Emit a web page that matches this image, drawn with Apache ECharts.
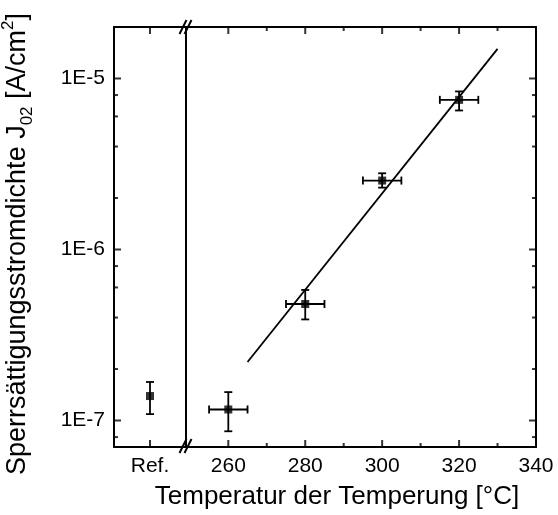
<!DOCTYPE html>
<html>
<head>
<meta charset="utf-8">
<script src="https://cdn.jsdelivr.net/npm/echarts@6/dist/echarts.min.js"></script>
<style>
  html, body { margin: 0; padding: 0; background: #fff; }
  #chart { width: 558px; height: 515px; }
</style>
</head>
<body>
<div id="chart"></div>
<script>
// Referenzprobe (linker Teil der gebrochenen Achse)
const refCategory = ['Ref.'];
const refValue = [1.39e-7];
const refErrLow = [1.09e-7];
const refErrHigh = [1.68e-7];

// Messpunkte nach Temperung
const temperatures = [260, 280, 300, 320];
const currentDensity = [1.16e-7, 4.8e-7, 2.53e-6, 7.5e-6];
const yErrLow = [0.865e-7, 3.9e-7, 2.3e-6, 6.5e-6];
const yErrHigh = [1.466e-7, 5.8e-7, 2.79e-6, 8.4e-6];
const tempErr = [5, 5, 5, 5];

// Ausgleichsgerade
const fitX = [265, 330];
const fitY = [2.2e-7, 1.49e-5];

// Achsenteilung
const xMajorTicks = [260, 280, 300, 320, 340];
const xMinorTicks = [270, 290, 310, 330];
const yMajorTicks = [1e-7, 1e-6, 1e-5];
const yMinorTicks = [8e-8, 2e-7, 4e-7, 6e-7, 8e-7, 2e-6, 4e-6, 6e-6, 8e-6];

const FONT = 'Liberation Sans, Arial, sans-serif';
const Y_MIN = 7e-8, Y_MAX = 2e-5;
const X_MIN = 249, X_MAX = 340;

const myChart = echarts.init(document.getElementById('chart'));

const lineOn = () => ({ show: true, lineStyle: { color: '#000', width: 2 } });
const tickOff = () => ({ show: false });
const labelOff = () => ({ show: false });

function errorBarItem(params, api) {
  const x = api.value(0), y = api.value(1);
  const c = api.coord([x, y]);
  const lo = api.coord([x, api.value(4)]);
  const hi = api.coord([x, api.value(5)]);
  const style = { stroke: '#000', lineWidth: 1.8, fill: null };
  const cap = 4;
  const children = [
    { type: 'line', shape: { x1: c[0], y1: lo[1], x2: c[0], y2: hi[1] }, style },
    { type: 'line', shape: { x1: c[0] - cap, y1: lo[1], x2: c[0] + cap, y2: lo[1] }, style },
    { type: 'line', shape: { x1: c[0] - cap, y1: hi[1], x2: c[0] + cap, y2: hi[1] }, style }
  ];
  if (api.value(3) > api.value(2)) {
    const l = api.coord([api.value(2), y]);
    const r = api.coord([api.value(3), y]);
    children.push(
      { type: 'line', shape: { x1: l[0], y1: c[1], x2: r[0], y2: c[1] }, style },
      { type: 'line', shape: { x1: l[0], y1: c[1] - cap, x2: l[0], y2: c[1] + cap }, style },
      { type: 'line', shape: { x1: r[0], y1: c[1] - cap, x2: r[0], y2: c[1] + cap }, style }
    );
  }
  return { type: 'group', children };
}

// Teilstriche als schmale Rechteck-Symbole am Rahmen, nach innen verschoben
function tickMarks(xi, yi, data, size, offset) {
  return {
    type: 'scatter', xAxisIndex: xi, yAxisIndex: yi,
    symbol: 'rect', symbolSize: size, symbolOffset: offset,
    itemStyle: { color: '#000' },
    silent: true, clip: false, z: 6,
    data: data
  };
}

// Bruchzeichen an der x-Achse
function breakMarks(cy) {
  return [183, 188].map(cx => ({
    type: 'line',
    shape: { x1: cx - 3.5, y1: cy + 7, x2: cx + 3.5, y2: cy - 7 },
    style: { stroke: '#000', lineWidth: 2 },
    z: 100
  }));
}

const option = {
  animation: false,
  backgroundColor: '#fff',
  textStyle: { fontFamily: FONT, color: '#000' },
  grid: [
    { left: 114, top: 27, width: 72, height: 420, outerBoundsMode: 'none' },
    { left: 186, top: 27, width: 350, height: 420, outerBoundsMode: 'none' }
  ],
  xAxis: [
    {
      gridIndex: 0, type: 'category', data: refCategory, position: 'bottom',
      axisLine: lineOn(), axisTick: tickOff(),
      axisLabel: { fontSize: 21, color: '#000', fontFamily: FONT, margin: 9 },
      splitLine: { show: false }
    },
    {
      gridIndex: 0, type: 'category', data: refCategory, position: 'top',
      axisLine: lineOn(), axisTick: tickOff(), axisLabel: labelOff(), splitLine: { show: false }
    },
    {
      gridIndex: 1, type: 'value', min: X_MIN, max: X_MAX, position: 'bottom',
      axisLine: lineOn(), axisTick: tickOff(),
      axisLabel: { customValues: xMajorTicks, fontSize: 21, color: '#000', fontFamily: FONT, margin: 9 },
      splitLine: { show: false },
      name: 'Temperatur der Temperung [°C]', nameLocation: 'middle', nameGap: 37,
      nameTextStyle: { fontSize: 26, color: '#000', fontFamily: FONT, padding: [0, 48, 0, 0] }
    },
    {
      gridIndex: 1, type: 'value', min: X_MIN, max: X_MAX, position: 'top',
      axisLine: lineOn(), axisTick: tickOff(), axisLabel: labelOff(), splitLine: { show: false }
    },
    // 4: unsichtbare Hilfsachse im Ref.-Bereich (linker Rand = 0)
    {
      gridIndex: 0, type: 'value', min: 0, max: 1, show: false
    }
  ],
  yAxis: [
    {
      gridIndex: 0, type: 'log', min: Y_MIN, max: Y_MAX, position: 'left',
      axisLine: lineOn(), axisTick: tickOff(),
      axisLabel: {
        customValues: yMajorTicks, fontSize: 21, color: '#000', fontFamily: FONT, margin: 9,
        formatter: v => '1E' + Math.round(Math.log10(v))
      },
      splitLine: { show: false },
      name: 'Sperrsättigungsstromdichte J{sub|02} [A/cm{sup|2}]',
      nameLocation: 'middle', nameRotate: 90, nameGap: 78,
      nameTextStyle: {
        fontSize: 27, color: '#000', fontFamily: FONT, lineHeight: 36, padding: [0, 14, 0, 0],
        rich: {
          sub: { fontSize: 17, fontFamily: FONT, color: '#000', verticalAlign: 'bottom', lineHeight: 12 },
          sup: { fontSize: 17, fontFamily: FONT, color: '#000', verticalAlign: 'top', lineHeight: 12 }
        }
      }
    },
    // Trennlinie am Achsenbruch
    {
      gridIndex: 1, type: 'log', min: Y_MIN, max: Y_MAX, position: 'left',
      axisLine: lineOn(), axisTick: tickOff(), axisLabel: labelOff(), splitLine: { show: false }
    },
    {
      gridIndex: 1, type: 'log', min: Y_MIN, max: Y_MAX, position: 'right',
      axisLine: lineOn(), axisTick: tickOff(), axisLabel: labelOff(), splitLine: { show: false }
    }
  ],
  graphic: breakMarks(27).concat(breakMarks(446)),
  series: [
    // Teilstriche
    tickMarks(0, 0, refCategory.map(c => [c, Y_MIN]), [2, 7], [0, -3.5]),
    tickMarks(0, 0, refCategory.map(c => [c, Y_MAX]), [2, 7], [0, 3.5]),
    tickMarks(4, 0, yMajorTicks.map(v => [0, v]), [7, 2], [3.5, 0]),
    tickMarks(4, 0, yMinorTicks.map(v => [0, v]), [4, 2], [2, 0]),
    tickMarks(2, 1, xMajorTicks.map(v => [v, Y_MIN]), [2, 7], [0, -3.5]),
    tickMarks(2, 1, xMajorTicks.map(v => [v, Y_MAX]), [2, 7], [0, 3.5]),
    tickMarks(2, 1, xMinorTicks.map(v => [v, Y_MIN]), [2, 4], [0, -2]),
    tickMarks(2, 1, xMinorTicks.map(v => [v, Y_MAX]), [2, 4], [0, 2]),
    tickMarks(2, 1, yMajorTicks.map(v => [X_MAX, v]), [7, 2], [-3.5, 0]),
    tickMarks(2, 1, yMinorTicks.map(v => [X_MAX, v]), [4, 2], [-2, 0]),
    // Referenz
    {
      type: 'custom', xAxisIndex: 0, yAxisIndex: 0,
      renderItem: errorBarItem,
      encode: { x: [0, 2, 3], y: [1, 4, 5] },
      data: refValue.map((v, i) => [i, v, i, i, refErrLow[i], refErrHigh[i]]),
      z: 2
    },
    {
      type: 'scatter', xAxisIndex: 0, yAxisIndex: 0,
      symbol: 'rect', symbolSize: 8, itemStyle: { color: '#000' },
      data: refValue.map((v, i) => [refCategory[i], v]),
      z: 3
    },
    // Messreihe
    {
      type: 'custom', xAxisIndex: 2, yAxisIndex: 1,
      renderItem: errorBarItem,
      encode: { x: [0, 2, 3], y: [1, 4, 5] },
      data: temperatures.map((t, i) => [t, currentDensity[i], t - tempErr[i], t + tempErr[i], yErrLow[i], yErrHigh[i]]),
      z: 2
    },
    {
      type: 'scatter', xAxisIndex: 2, yAxisIndex: 1,
      symbol: 'rect', symbolSize: 8, itemStyle: { color: '#000' },
      data: temperatures.map((t, i) => [t, currentDensity[i]]),
      z: 3
    },
    {
      type: 'line', xAxisIndex: 2, yAxisIndex: 1,
      showSymbol: false, symbol: 'none',
      lineStyle: { color: '#000', width: 1.8 },
      data: fitX.map((x, i) => [x, fitY[i]]),
      z: 1
    }
  ]
};

myChart.setOption(option);
</script>
</body>
</html>
